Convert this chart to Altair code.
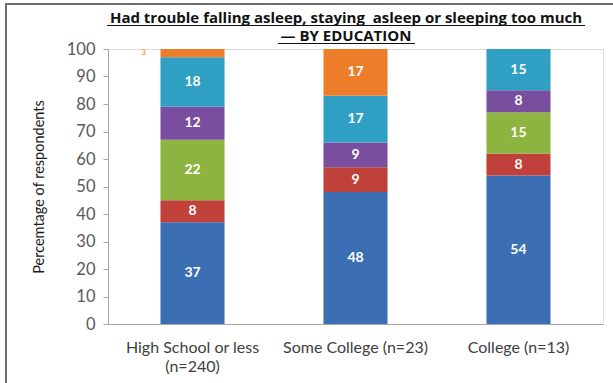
import altair as alt
import pandas as pd

# Education groups (x axis) and the stacked response shares, bottom to top
categories = ["High School or less (n=240)", "Some College (n=23)", "College (n=13)"]
series = ["Response 1", "Response 2", "Response 3", "Response 4", "Response 5", "Response 6"]
colors = ["#3C6EB4", "#C0403A", "#8DB43E", "#7A4E9E", "#2F9FC4", "#EE7D2A"]

resp1 = [37, 48, 54]
resp2 = [8, 9, 8]
resp3 = [22, 0, 15]
resp4 = [12, 9, 8]
resp5 = [18, 17, 15]
resp6 = [3, 17, 0]

title_lines = ["Had trouble falling asleep, staying\u00a0 asleep or sleeping too much", "— BY EDUCATION"]

values_by_series = [resp1, resp2, resp3, resp4, resp5, resp6]

rows = []
for s_idx, (name, vals) in enumerate(zip(series, values_by_series)):
    for cat, v in zip(categories, vals):
        rows.append({"category": cat, "series": name, "order": s_idx, "value": v})
df = pd.DataFrame(rows)

FONT = "Lato"
TITLE_FONT = "Open Sans"

x_axis = alt.Axis(
    labelAngle=0,
    labelFont=FONT,
    labelFontSize=16,
    labelColor="#404040",
    labelPadding=15,
    labelLineHeight=19,
    ticks=False,
    domainColor="#A6A6A6",
    labelExpr="datum.value == 'High School or less (n=240)' ? ['High School or less', '(n=240)'] : datum.label",
)
x_scale = alt.Scale(paddingInner=0.607, paddingOuter=0.322)

y_axis = alt.Axis(
    values=list(range(0, 101, 10)),
    labelOverlap=False,
    grid=False,
    labelFont=FONT,
    labelFontSize=16.5,
    labelColor="#595959",
    labelPadding=8,
    tickSize=5,
    tickColor="#A6A6A6",
    domainColor="#A6A6A6",
    titleFont=FONT,
    titleFontSize=14.5,
    titleFontWeight="normal",
    titleColor="#1A1A1A",
    titlePadding=20,
)
y_scale = alt.Scale(domain=[0, 100], nice=False)
y_title = "Percemtage of respondents"

bars = alt.Chart(df).mark_bar().encode(
    x=alt.X("category:N", sort=categories, title=None, scale=x_scale, axis=x_axis),
    y=alt.Y("value:Q", stack="zero", scale=y_scale, title=y_title, axis=y_axis),
    color=alt.Color("series:N", scale=alt.Scale(domain=series, range=colors), legend=None),
    order=alt.Order("order:Q", sort="ascending"),
)

# Cumulative midpoints for the segment labels
positioned = alt.Chart(df).transform_window(
    cum="sum(value)", groupby=["category"], sort=[alt.SortField("order")]
).transform_calculate(mid="datum.cum - datum.value / 2")

labels = positioned.transform_filter("datum.value >= 5").mark_text(
    font=FONT, fontSize=14, fontWeight="bold", color="white"
).encode(
    x=alt.X("category:N", sort=categories, title=None, scale=x_scale, axis=x_axis),
    y=alt.Y("mid:Q", scale=y_scale, title=y_title, axis=y_axis),
    text=alt.Text("value:Q"),
)

small_label = positioned.transform_filter("datum.value > 0 && datum.value < 5").mark_text(
    font=FONT, fontSize=8, fontWeight="bold", color="#F5A623", dx=-49
).encode(
    x=alt.X("category:N", sort=categories, title=None, scale=x_scale, axis=x_axis),
    y=alt.Y("mid:Q", scale=y_scale, title=y_title, axis=y_axis),
    text=alt.Text("value:Q"),
)

one = alt.Data(values=[{}])

# Two-line underlined heading
title1 = alt.Chart(one).mark_text(
    font=TITLE_FONT, fontSize=15, fontWeight="bold", color="#111111", align="center", baseline="alphabetic"
).encode(x=alt.value(238), y=alt.value(-26), text=alt.value(title_lines[0]))
title2 = alt.Chart(one).mark_text(
    font=TITLE_FONT, fontSize=15, fontWeight="bold", color="#111111", align="center", baseline="alphabetic"
).encode(x=alt.value(238), y=alt.value(-8), text=alt.value(title_lines[1]))

underline1 = alt.Chart(one).mark_rule(color="#111111", strokeWidth=1.2).encode(
    x=alt.value(-1), x2=alt.value(477), y=alt.value(-23.5)
)
underline2 = alt.Chart(one).mark_rule(color="#111111", strokeWidth=1.2).encode(
    x=alt.value(170), x2=alt.value(307), y=alt.value(-5.5)
)

# Outer frame (left and top edges fall inside the figure)
frame = alt.Chart(one).mark_rect(fill="transparent", stroke="#6E6E6E", strokeWidth=2).encode(
    x=alt.value(-102), x2=alt.value(530), y=alt.value(-45), y2=alt.value(360)
)

chart = alt.layer(bars, labels, small_label, title1, title2, underline1, underline2, frame).properties(
    width=495,
    height=275,
    autosize=alt.AutoSizeParams(type="none"),
    padding={"left": 108, "top": 49, "right": 10, "bottom": 59},
).configure_view(stroke=None).configure(background="white")

chart.save("out.html", embed_options={"renderer": "svg", "actions": False})
